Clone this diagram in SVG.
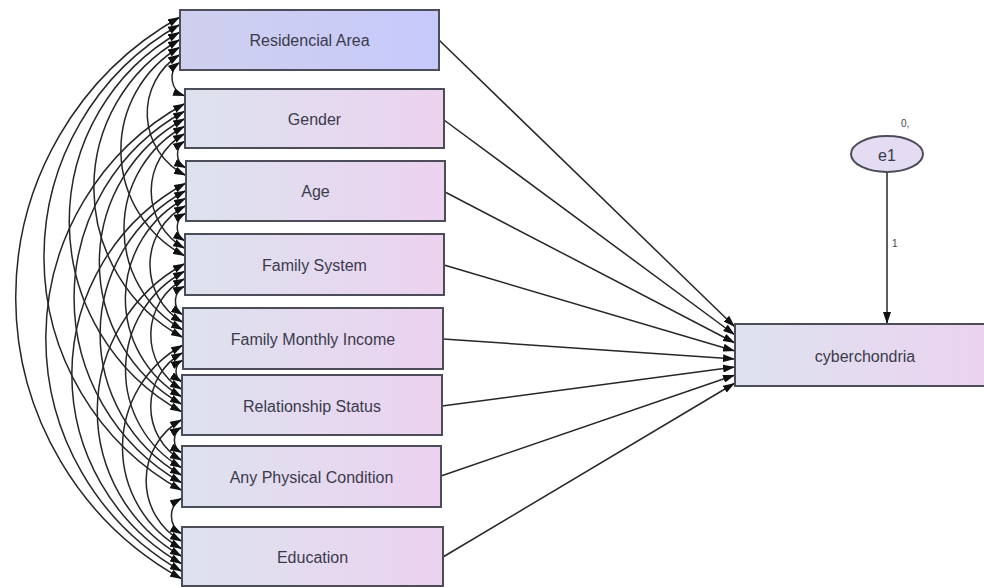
<svg xmlns="http://www.w3.org/2000/svg" width="984" height="587" viewBox="0 0 984 587">
<style>
.box{stroke:#4d4d5a;stroke-width:2;fill:url(#g)}
.lbl{font-family:"Liberation Sans",Arial,sans-serif;font-size:16px;fill:#3a3a4c;text-anchor:middle;dominant-baseline:central}
.cov{fill:none;stroke:#262626;stroke-width:1.5;marker-start:url(#ah);marker-end:url(#ah)}
.reg{fill:none;stroke:#262626;stroke-width:1.5;marker-end:url(#ah)}
.sm{font-family:"Liberation Sans",Arial,sans-serif;font-size:10px;fill:#444}
</style>
<defs>
<linearGradient id="g" x1="0" y1="0" x2="1" y2="0">
<stop offset="0" stop-color="#dde2ee"/><stop offset="1" stop-color="#ecd2f0"/>
</linearGradient>
<linearGradient id="gb" x1="0" y1="0" x2="1" y2="0">
<stop offset="0" stop-color="#cfd0ee"/><stop offset="1" stop-color="#c7c9fb"/>
</linearGradient>
<marker id="ah" viewBox="0 0 12 8" refX="12" refY="4" markerWidth="12" markerHeight="8" markerUnits="userSpaceOnUse" orient="auto-start-reverse">
<path d="M0,0 L12,4 L0,8 z" fill="#111"/>
</marker>
</defs>
<rect width="984" height="587" fill="#fff"/>
<g id="connectors">
<path class="cov" d="M180,62 A19.4,19.4 0 0 0 185,96"/>
<path class="cov" d="M180,54.5 A69.2,69.2 0 0 0 186,175.5"/>
<path class="cov" d="M180,47 A119.5,119.5 0 0 0 185,256"/>
<path class="cov" d="M180,39.5 A170.5,170.5 0 0 0 183,337.5"/>
<path class="cov" d="M180,32 A217.4,217.4 0 0 0 182,412"/>
<path class="cov" d="M180,24.5 A266.6,266.6 0 0 0 182,490.5"/>
<path class="cov" d="M180,17 A321.5,321.5 0 0 0 182,579"/>
<path class="cov" d="M185,141 A15.4,15.4 0 0 0 186,168"/>
<path class="cov" d="M185,133.5 A65.8,65.8 0 0 0 185,248.5"/>
<path class="cov" d="M185,126 A116.7,116.7 0 0 0 183,330"/>
<path class="cov" d="M185,118.5 A163.6,163.6 0 0 0 182,404.5"/>
<path class="cov" d="M185,111 A212.8,212.8 0 0 0 182,483"/>
<path class="cov" d="M185,103.5 A267.7,267.7 0 0 0 182,571.5"/>
<path class="cov" d="M186,213 A16,16 0 0 0 185,241"/>
<path class="cov" d="M186,205.5 A66.9,66.9 0 0 0 183,322.5"/>
<path class="cov" d="M186,198 A113.8,113.8 0 0 0 182,397"/>
<path class="cov" d="M186,190.5 A163,163 0 0 0 182,475.5"/>
<path class="cov" d="M186,183 A217.9,217.9 0 0 0 182,564"/>
<path class="cov" d="M185,286 A16.6,16.6 0 0 0 183,315"/>
<path class="cov" d="M185,278.5 A63.5,63.5 0 0 0 182,389.5"/>
<path class="cov" d="M185,271 A112.7,112.7 0 0 0 182,468"/>
<path class="cov" d="M185,263.5 A167.6,167.6 0 0 0 182,556.5"/>
<path class="cov" d="M183,360 A12.6,12.6 0 0 0 182,382"/>
<path class="cov" d="M183,352.5 A61.8,61.8 0 0 0 182,460.5"/>
<path class="cov" d="M183,345 A116.7,116.7 0 0 0 182,549"/>
<path class="cov" d="M182,427 A14.9,14.9 0 0 0 182,453"/>
<path class="cov" d="M182,419.5 A69.8,69.8 0 0 0 182,541.5"/>
<path class="cov" d="M182,498 A20.6,20.6 0 0 0 182,534"/>
<path class="reg" d="M439,40 L735,327"/>
<path class="reg" d="M444,120 L735,335"/>
<path class="reg" d="M445,192 L735,343"/>
<path class="reg" d="M444,265 L735,351"/>
<path class="reg" d="M443,339 L735,359"/>
<path class="reg" d="M442,406 L735,367"/>
<path class="reg" d="M441,476 L735,375"/>
<path class="reg" d="M443,557 L735,383"/>
<path class="reg" d="M887,172 L887,324"/>
<text class="sm" x="892" y="247">1</text>
</g>
<g id="n-residencial"><rect x="180" y="10" width="259" height="60" style="stroke:#4d4d5a;stroke-width:2;fill:url(#gb)"/><text class="lbl" x="309.5" y="40">Residencial Area</text></g>
<g id="n-gender"><rect class="box" x="185" y="89" width="259" height="59"/><text class="lbl" x="314.5" y="119">Gender</text></g>
<g id="n-age"><rect class="box" x="186" y="161" width="259" height="60"/><text class="lbl" x="315.5" y="191">Age</text></g>
<g id="n-family-system"><rect class="box" x="185" y="234" width="259" height="61"/><text class="lbl" x="314.5" y="265">Family System</text></g>
<g id="n-income"><rect class="box" x="183" y="308" width="260" height="61"/><text class="lbl" x="313" y="339">Family Monthly Income</text></g>
<g id="n-relationship"><rect class="box" x="182" y="375" width="260" height="60"/><text class="lbl" x="312" y="406">Relationship Status</text></g>
<g id="n-physical"><rect class="box" x="182" y="446" width="259" height="61"/><text class="lbl" x="311.5" y="477">Any Physical Condition</text></g>
<g id="n-education"><rect class="box" x="182" y="527" width="261" height="59"/><text class="lbl" x="312.5" y="557">Education</text></g>
<g id="n-cyberchondria"><rect class="box" x="735" y="324" width="262" height="62"/><text class="lbl" x="865" y="356">cyberchondria</text></g>
<g id="n-e1"><ellipse cx="887" cy="154" rx="36" ry="18" style="fill:#e3dcf2;stroke:#4d4d5a;stroke-width:2"/><text class="lbl" x="887" y="155">e1</text><text class="sm" x="901" y="127">0,</text></g>
</svg>
